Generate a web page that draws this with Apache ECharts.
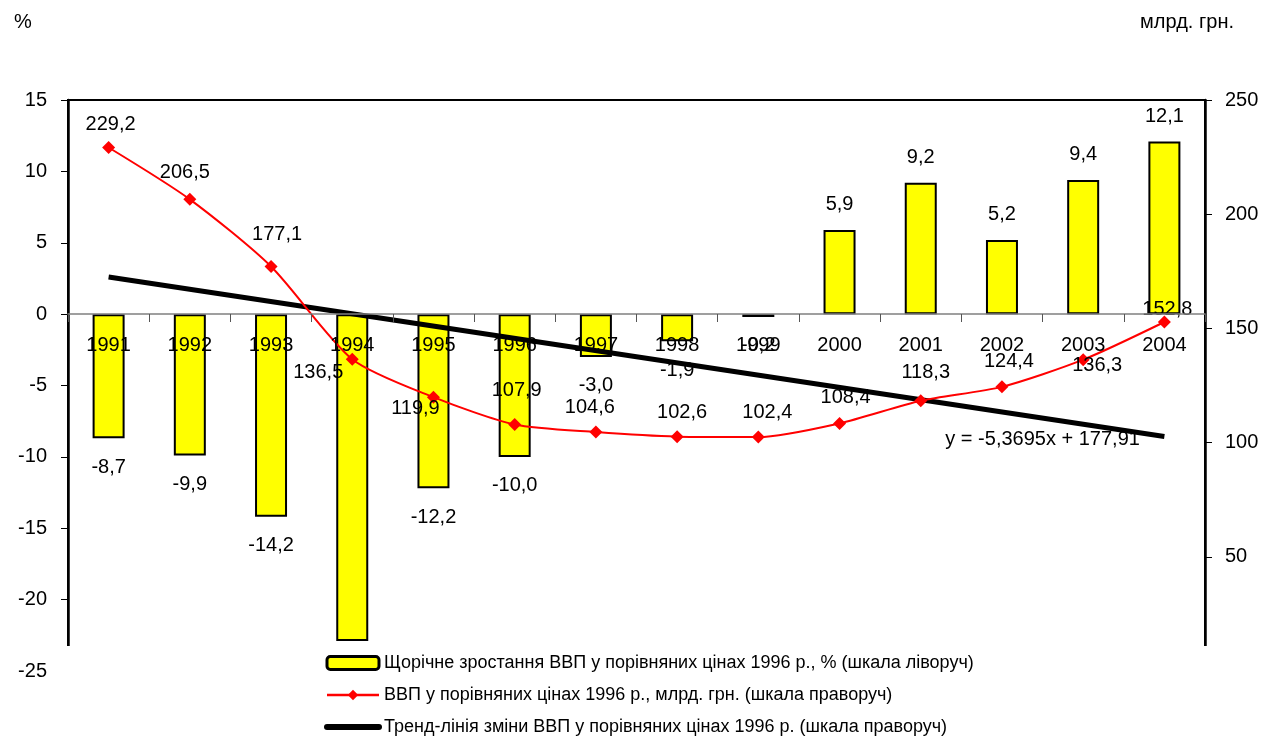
<!DOCTYPE html>
<html>
<head>
<meta charset="utf-8">
<script src="https://cdn.jsdelivr.net/npm/echarts@6/dist/echarts.min.js"></script>
<style>html,body{margin:0;padding:0;background:#fff}#c{width:1272px;height:740px}</style>
</head>
<body>
<div id="c"></div>
<script>
const categories = ['1991','1992','1993','1994','1995','1996','1997','1998','1999','2000','2001','2002','2003','2004'];
const growthPct = [-8.7, -9.9, -14.2, -22.9, -12.2, -10.0, -3.0, -1.9, -0.2, 5.9, 9.2, 5.2, 9.4, 12.1];
const gdpBn = [229.2, 206.5, 177.1, 136.5, 119.9, 107.9, 104.6, 102.6, 102.4, 108.4, 118.3, 124.4, 136.3, 152.8];
const trendVals = [172.5, null, null, null, null, null, null, null, null, null, null, null, null, 102.7];
const leftTicks = {min: -25, max: 15, interval: 5};
const rightTicks = {min: 0, max: 250, interval: 50};
const seriesNames = [
  'Щорічне зростання ВВП у порівняних цінах 1996 р., % (шкала ліворуч)',
  'ВВП у порівняних цінах 1996 р., млрд. грн. (шкала праворуч)',
  'Тренд-лінія зміни ВВП у порівняних цінах 1996 р. (шкала праворуч)'
];
const trendLabel = 'y = -5,3695x + 177,91';

// label offsets for the GDP line (style only)
const gdpLabelOffsets = [[2,-23],[-5,-27],[6,-32],[-34,13],[-18,11],[2,-34],[-6,-25],[5,-24],[9,-25],[6,-26],[5,-28],[7,-25],[14,6],[3,-13]];

const fmt = v => v.toFixed(1).replace('.', ',');
const FONT = 'Liberation Sans, Arial, sans-serif';

const chart = echarts.init(document.getElementById('c'));
chart.setOption({
  animation: false,
  textStyle: {fontFamily: FONT},
  title: [
    {text: '%', left: 9, top: 7, textStyle: {fontSize: 20, fontWeight: 'normal', color: '#000', fontFamily: FONT}},
    {text: 'млрд. грн.', right: 33, top: 7, textStyle: {fontSize: 20, fontWeight: 'normal', color: '#000', fontFamily: FONT}}
  ],
  grid: {left: 68, right: 67, top: 100, bottom: 69, show: true, borderColor: '#000', borderWidth: 2, backgroundColor: 'transparent'},
  legend: {
    orient: 'vertical', left: 324, top: 654, padding: 0, itemGap: 14, itemWidth: 52, itemHeight: 13, z: 60,
    textStyle: {fontSize: 18, color: '#000', fontFamily: FONT},
    data: [
      {name: seriesNames[0], itemStyle: {borderWidth: 3, borderColor: '#000'}},
      {name: seriesNames[1], lineStyle: {width: 2.5}},
      {name: seriesNames[2], lineStyle: {width: 6, cap: 'round'}, itemStyle: {opacity: 0}}
    ]
  },
  xAxis: {
    type: 'category', data: categories, z: 10,
    axisLine: {onZero: false, lineStyle: {color: '#808080', width: 1.5}},
    offset: -357,
    axisTick: {show: true, length: 8, lineStyle: {color: '#555'}},
    axisLabel: {fontSize: 20, color: '#000', margin: 21, interval: 0}
  },
  yAxis: [
    {type: 'value', min: leftTicks.min, max: leftTicks.max, interval: leftTicks.interval, position: 'left',
     splitLine: {show: false},
     axisLine: {show: true, lineStyle: {color: '#000', width: 2.5}},
     axisTick: {show: true, length: 7, lineStyle: {color: '#000'}},
     axisLabel: {fontSize: 20, color: '#000', margin: 21}},
    {type: 'value', min: rightTicks.min, max: rightTicks.max, interval: rightTicks.interval, position: 'right',
     splitLine: {show: false},
     axisLine: {show: true, lineStyle: {color: '#000', width: 2.5}},
     axisTick: {show: true, length: 7, lineStyle: {color: '#000'}},
     axisLabel: {fontSize: 20, color: '#000', margin: 20, formatter: v => v === 0 ? '' : String(v)}}
  ],
  graphic: [
    {type: 'rect', left: 60, top: 646, shape: {width: 1162, height: 60}, style: {fill: '#fff'}, z: 50, silent: true}
  ],
  series: [
    {
      name: seriesNames[0], type: 'bar', yAxisIndex: 0, barWidth: 32, z: 2,
      itemStyle: {color: '#FFFF00', borderColor: '#000', borderWidth: 2},
      data: growthPct.map(v => ({
        value: v,
        label: {show: true, position: v < 0 ? 'bottom' : 'top', distance: v < 0 ? 19 : 15,
                fontSize: 20, color: '#000', formatter: p => fmt(p.value)}
      }))
    },
    {
      name: seriesNames[2], type: 'line', yAxisIndex: 1, z: 3,
      connectNulls: true, symbol: 'circle', symbolSize: 1, showSymbol: true,
      lineStyle: {color: '#000', width: 5},
      itemStyle: {color: 'rgba(0,0,0,0)'},
      data: trendVals.map((v, i) => i === trendVals.length - 1 ? ({
        value: v,
        label: {show: true, position: 'left', distance: 24, offset: [0, 3], fontSize: 20, color: '#000', formatter: trendLabel}
      }) : v)
    },
    {
      name: seriesNames[1], type: 'line', yAxisIndex: 1, z: 4, smooth: 0.25,
      symbol: 'diamond', symbolSize: 13,
      lineStyle: {color: '#FF0000', width: 2},
      itemStyle: {color: '#FF0000'},
      data: gdpBn.map((v, i) => ({
        value: v,
        label: {show: true, position: 'inside', offset: gdpLabelOffsets[i], fontSize: 20, color: '#000', formatter: p => fmt(p.value)}
      }))
    }
  ]
});
</script>
</body>
</html>
